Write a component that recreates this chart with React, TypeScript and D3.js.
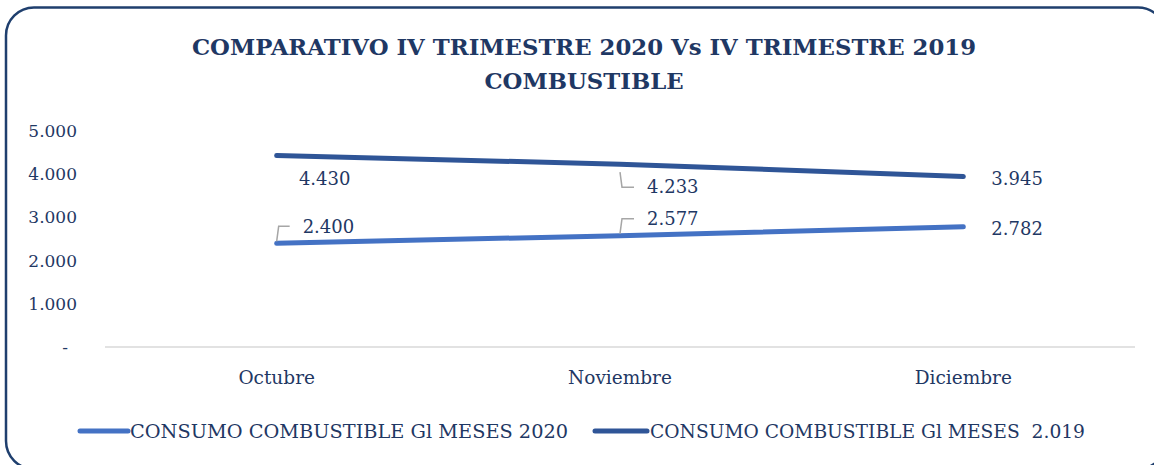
import React from "react";
import * as d3 from "d3";

const categories = ["Octubre", "Noviembre", "Diciembre"];
const values2020 = [2400, 2577, 2782];
const values2019 = [4430, 4233, 3945];
const yTicks = [0, 1000, 2000, 3000, 4000, 5000];
const seriesNames = ["CONSUMO COMBUSTIBLE Gl MESES 2020", "CONSUMO COMBUSTIBLE Gl MESES  2.019"];
const titleLines = ["COMPARATIVO IV TRIMESTRE 2020 Vs IV TRIMESTRE 2019", "COMBUSTIBLE"];

const W = 1154;
const H = 465;
const FONT = "'DejaVu Serif', 'Liberation Serif', serif";
const TEXT = "#1F3864";
const C2020 = "#4472C4";
const C2019 = "#2F5597";

const fmt = (v: number) => (v === 0 ? "-" : d3.format(",")(v).replace(/,/g, "."));

// label placement offsets per point
const labelOff2019 = [
  { dx: 48, dy: 23, leader: false, anchor: "middle" },
  { dx: 27, dy: 23, leader: true, anchor: "start" },
  { dx: 28, dy: 2, leader: false, anchor: "start" },
];
const labelOff2020 = [
  { dx: 26, dy: -17, leader: true, anchor: "start" },
  { dx: 27, dy: -17, leader: true, anchor: "start" },
  { dx: 28, dy: 2, leader: false, anchor: "start" },
];

export default function App() {
  const x = d3.scaleBand().domain(categories).range([105, 1135]);
  const cx = (c: string) => (x(c) as number) + x.bandwidth() / 2;
  const y = d3.scaleLinear().domain([0, 5000]).range([347, 131]);
  const line = d3
    .line<number>()
    .x((_, i) => cx(categories[i]))
    .y((d) => y(d));

  const renderLabels = (vals: number[], offs: typeof labelOff2019) =>
    vals.map((v, i) => {
      const px = cx(categories[i]);
      const py = y(v);
      const o = offs[i];
      const lx = px + o.dx;
      const ly = py + o.dy;
      return (
        <g key={i}>
          {o.leader && (
            <path
              d={`M${px},${py + (o.dy > 0 ? 8 : -2)} L${px + 2},${ly} L${lx - 13},${ly}`}
              fill="none"
              stroke="#A6A6A6"
              strokeWidth={1.5}
            />
          )}
          <text
            x={lx}
            y={ly}
            dy="0.35em"
            textAnchor={o.anchor as any}
            fontSize={18}
            fill={TEXT}
            fontFamily={FONT}
          >
            {fmt(v)}
          </text>
        </g>
      );
    });

  return (
    <svg width={W} height={H} style={{ position: "absolute", left: 0, top: 0 }}>
      <rect x={0} y={0} width={W} height={H} fill="#fff" />
      <rect x={6} y={7.5} width={1160} height={461.5} rx={28} ry={28} fill="#fff" stroke="#1F3F6E" strokeWidth={2.5} />
      {titleLines.map((t, i) => (
        <text
          key={i}
          x={584}
          y={47 + i * 34}
          dy="0.35em"
          textAnchor="middle"
          fontSize={22.8}
          fontWeight="bold"
          fill={TEXT}
          fontFamily={FONT}
        >
          {t}
        </text>
      ))}
      {yTicks.map((t) => (
        <text
          key={t}
          x={t === 0 ? 68 : 77}
          y={y(t)}
          dy="0.35em"
          textAnchor="end"
          fontSize={17}
          fill={TEXT}
          fontFamily={FONT}
        >
          {fmt(t)}
        </text>
      ))}
      <line x1={105} x2={1135} y1={y(0)} y2={y(0)} stroke="#D9D9D9" strokeWidth={1.5} />
      {categories.map((c) => (
        <text key={c} x={cx(c)} y={378} dy="0.35em" textAnchor="middle" fontSize={18.5} fill={TEXT} fontFamily={FONT}>
          {c}
        </text>
      ))}
      <path d={line(values2019) || ""} fill="none" stroke={C2019} strokeWidth={5} strokeLinecap="round" />
      <path d={line(values2020) || ""} fill="none" stroke={C2020} strokeWidth={5} strokeLinecap="round" />
      {renderLabels(values2019, labelOff2019)}
      {renderLabels(values2020, labelOff2020)}
      {[
        { x1: 80, x2: 128, tx: 130, len: 438, color: C2020, name: seriesNames[0] },
        { x1: 595, x2: 647, tx: 650, len: 435, color: C2019, name: seriesNames[1] },
      ].map((l, i) => (
        <g key={i}>
          <line x1={l.x1} x2={l.x2} y1={431} y2={431} stroke={l.color} strokeWidth={5} strokeLinecap="round" />
          <text
            x={l.tx}
            y={431}
            dy="0.35em"
            fontSize={19.2}
            fill={TEXT}
            fontFamily={FONT}
            textLength={l.len}
            lengthAdjust="spacingAndGlyphs"
            style={{ whiteSpace: "pre" }}
          >
            {l.name}
          </text>
        </g>
      ))}
    </svg>
  );
}
